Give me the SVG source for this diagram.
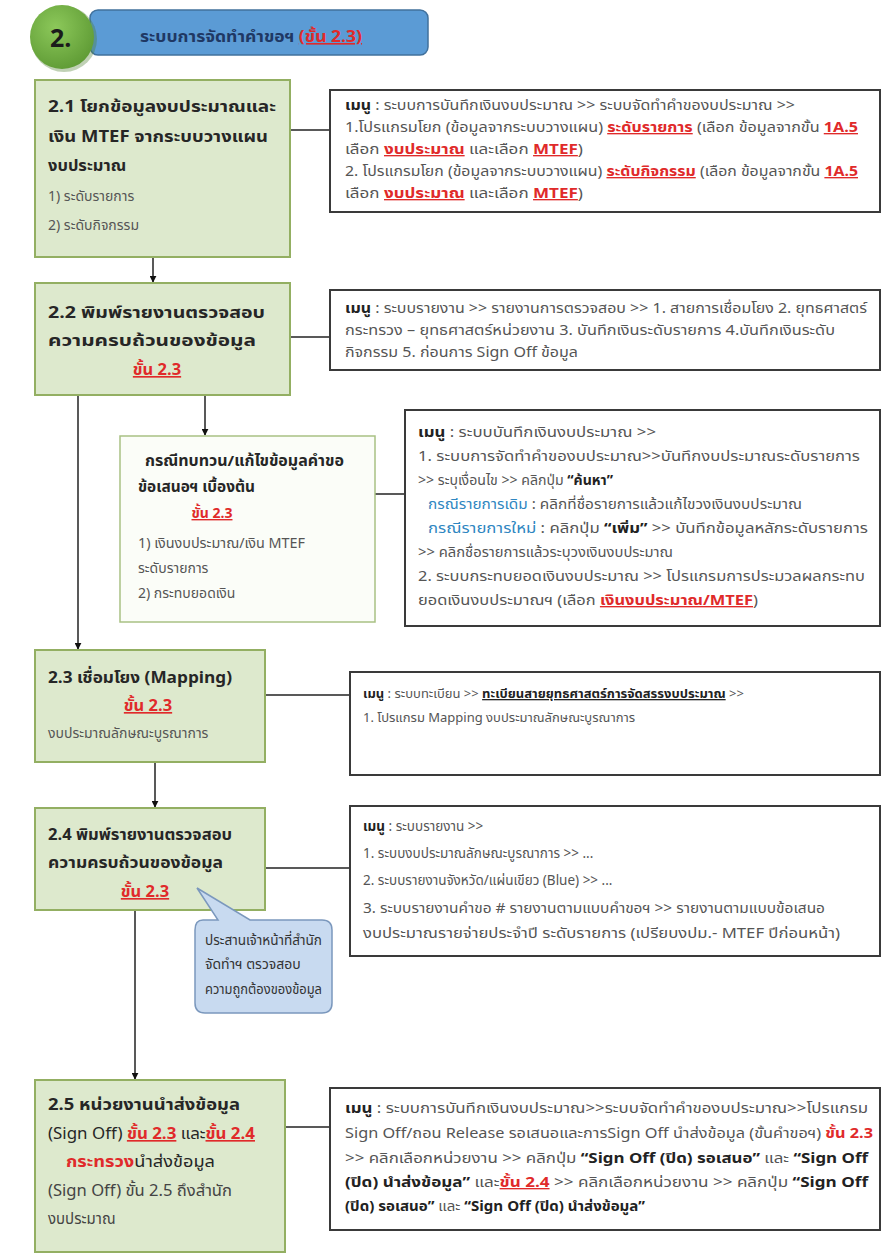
<svg xmlns="http://www.w3.org/2000/svg" width="889" height="1255" viewBox="0 0 889 1255">
<style>
text{font-family:"Noto Sans Thai","Noto Sans","DejaVu Sans",sans-serif;}
.gbox{fill:#dde9cd;stroke:#93af62;stroke-width:2;}
.sbox{fill:#fbfdf8;stroke:#a9c184;stroke-width:1.5;}
.mbox{fill:#ffffff;stroke:#3a3a3a;stroke-width:2;}
.h{font-size:16.5px;font-weight:bold;fill:#262626;}
.n{font-size:14px;fill:#555;}
.m{font-size:13.5px;fill:#555;}
.s{font-size:13px;fill:#555;}
.b{font-weight:bold;fill:#222;}
.r{fill:#e02a2a;text-decoration:underline;font-weight:bold;}
.rn{fill:#e02a2a;}
.bl{fill:#2e86c1;}
.ln{stroke:#222;stroke-width:1.5;fill:none;}
</style>
<defs>
<marker id="ah" viewBox="0 0 10 10" refX="9" refY="5" markerWidth="7" markerHeight="7" orient="auto" markerUnits="userSpaceOnUse">
<path d="M0,0 L10,5 L0,10 z" fill="#111"/>
</marker>
<radialGradient id="gc" cx="0.4" cy="0.35" r="0.7">
<stop offset="0" stop-color="#8cc85a"/>
<stop offset="1" stop-color="#5e9a34"/>
</radialGradient>
</defs>
<rect width="889" height="1255" fill="#ffffff"/>

<g id="header">
<rect x="90" y="10" width="338" height="45" rx="8" fill="#5b9bd5" stroke="#41719c" stroke-width="1.5"/>
<circle cx="64" cy="39" r="33" fill="#4a7a2a" opacity="0.35"/>
<circle cx="62" cy="37" r="32" fill="url(#gc)"/>
<text x="50" y="47" style="font-size:25px;font-weight:bold;fill:#1b1b1b;">2.</text>
<text x="140" y="42" textLength="222" lengthAdjust="spacingAndGlyphs" style="font-size:16px;font-weight:bold;fill:#1f3864;">ระบบการจัดทำคำขอฯ <tspan class="r">(ขั้น 2.3)</tspan></text>
</g>

<g id="connectors">
<line class="ln" x1="153" y1="257" x2="153" y2="282" marker-end="url(#ah)"/>
<line class="ln" x1="290" y1="130" x2="330" y2="130"/>
<line class="ln" x1="290" y1="337" x2="330" y2="337"/>
<line class="ln" x1="205" y1="395" x2="205" y2="435" marker-end="url(#ah)"/>
<line class="ln" x1="78" y1="395" x2="78" y2="649" marker-end="url(#ah)"/>
<line class="ln" x1="375" y1="494" x2="405" y2="494"/>
<line class="ln" x1="265" y1="695" x2="350" y2="695"/>
<line class="ln" x1="155" y1="762" x2="155" y2="807" marker-end="url(#ah)"/>
<line class="ln" x1="265" y1="868" x2="350" y2="868"/>
<line class="ln" x1="135" y1="910" x2="135" y2="1079" marker-end="url(#ah)"/>
<line class="ln" x1="285" y1="1127" x2="330" y2="1127"/>
</g>

<g id="n21">
<rect class="gbox" x="35" y="80" width="255" height="177"/>
<text class="h" x="48" y="112" textLength="228" lengthAdjust="spacingAndGlyphs">2.1 โยกข้อมูลงบประมาณและ</text>
<text class="h" x="48" y="142" textLength="220" lengthAdjust="spacingAndGlyphs">เงิน MTEF จากระบบวางแผน</text>
<text class="h" x="48" y="171">งบประมาณ</text>
<text class="n" x="48" y="201">1) ระดับรายการ</text>
<text class="n" x="48" y="230">2) ระดับกิจกรรม</text>
</g>

<g id="m21">
<rect class="mbox" x="330" y="90" width="550" height="122"/>
<text class="m" x="345" y="110" textLength="450" lengthAdjust="spacingAndGlyphs"><tspan class="b">เมนู</tspan> : ระบบการบันทึกเงินงบประมาณ &gt;&gt; ระบบจัดทำคำของบประมาณ &gt;&gt;</text>
<text class="m" x="345" y="132" textLength="513" lengthAdjust="spacingAndGlyphs">1.โปรแกรมโยก (ข้อมูลจากระบบวางแผน) <tspan class="r">ระดับรายการ</tspan> (เลือก ข้อมูลจากขั้น <tspan class="r">1A.5</tspan></text>
<text class="m" x="345" y="154" textLength="238" lengthAdjust="spacingAndGlyphs">เลือก <tspan class="r">งบประมาณ</tspan> และเลือก <tspan class="r">MTEF</tspan>)</text>
<text class="m" x="345" y="176" textLength="513" lengthAdjust="spacingAndGlyphs">2. โปรแกรมโยก (ข้อมูลจากระบบวางแผน) <tspan class="r">ระดับกิจกรรม</tspan> (เลือก ข้อมูลจากขั้น <tspan class="r">1A.5</tspan></text>
<text class="m" x="345" y="198" textLength="238" lengthAdjust="spacingAndGlyphs">เลือก <tspan class="r">งบประมาณ</tspan> และเลือก <tspan class="r">MTEF</tspan>)</text>
</g>

<g id="n22">
<rect class="gbox" x="35" y="283" width="255" height="112"/>
<text class="h" x="48" y="318" textLength="217" lengthAdjust="spacingAndGlyphs">2.2 พิมพ์รายงานตรวจสอบ</text>
<text class="h" x="48" y="346" textLength="208" lengthAdjust="spacingAndGlyphs">ความครบถ้วนของข้อมูล</text>
<text class="h" x="157" y="375" text-anchor="middle"><tspan class="r">ขั้น 2.3</tspan></text>
</g>

<g id="m22">
<rect class="mbox" x="330" y="290" width="550" height="80"/>
<text class="m" x="345" y="313" textLength="522" lengthAdjust="spacingAndGlyphs"><tspan class="b">เมนู</tspan> : ระบบรายงาน &gt;&gt; รายงานการตรวจสอบ &gt;&gt; 1. สายการเชื่อมโยง 2. ยุทธศาสตร์</text>
<text class="m" x="345" y="335" textLength="490" lengthAdjust="spacingAndGlyphs">กระทรวง – ยุทธศาสตร์หน่วยงาน 3. บันทึกเงินระดับรายการ 4.บันทึกเงินระดับ</text>
<text class="m" x="345" y="357" textLength="233" lengthAdjust="spacingAndGlyphs">กิจกรรม 5. ก่อนการ Sign Off ข้อมูล</text>
</g>

<g id="nsub">
<rect class="sbox" x="120" y="436" width="255" height="186"/>
<text class="h" x="145" y="466" textLength="199" lengthAdjust="spacingAndGlyphs" style="font-size:15px;">กรณีทบทวน/แก้ไขข้อมูลคำขอ</text>
<text class="h" x="138" y="492" textLength="117" lengthAdjust="spacingAndGlyphs" style="font-size:15px;">ข้อเสนอฯ เบื้องต้น</text>
<text class="h" x="212" y="518" text-anchor="middle" style="font-size:14px;"><tspan class="r">ขั้น 2.3</tspan></text>
<text class="n" x="138" y="548" textLength="167" lengthAdjust="spacingAndGlyphs">1) เงินงบประมาณ/เงิน MTEF</text>
<text class="n" x="138" y="573">ระดับรายการ</text>
<text class="n" x="138" y="598">2) กระทบยอดเงิน</text>
</g>

<g id="msub">
<rect class="mbox" x="405" y="410" width="475" height="216"/>
<text class="m" x="418" y="437" textLength="238" lengthAdjust="spacingAndGlyphs"><tspan class="b">เมนู</tspan> : ระบบบันทึกเงินงบประมาณ &gt;&gt;</text>
<text class="m" x="418" y="461" textLength="442" lengthAdjust="spacingAndGlyphs">1. ระบบการจัดทำคำของบประมาณ&gt;&gt;บันทึกงบประมาณระดับรายการ</text>
<text class="m" x="418" y="485" textLength="195" lengthAdjust="spacingAndGlyphs">&gt;&gt; ระบุเงื่อนไข &gt;&gt; คลิกปุ่ม <tspan class="b">“ค้นหา”</tspan></text>
<text class="m" x="428" y="509" textLength="374" lengthAdjust="spacingAndGlyphs"><tspan class="bl">กรณีรายการเดิม</tspan> : คลิกที่ชื่อรายการแล้วแก้ไขวงเงินงบประมาณ</text>
<text class="m" x="428" y="533" textLength="440" lengthAdjust="spacingAndGlyphs"><tspan class="bl">กรณีรายการใหม่</tspan> : คลิกปุ่ม <tspan class="b">“เพิ่ม”</tspan> &gt;&gt; บันทึกข้อมูลหลักระดับรายการ</text>
<text class="m" x="418" y="557" textLength="255" lengthAdjust="spacingAndGlyphs">&gt;&gt; คลิกชื่อรายการแล้วระบุวงเงินงบประมาณ</text>
<text class="m" x="418" y="581" textLength="447" lengthAdjust="spacingAndGlyphs">2. ระบบกระทบยอดเงินงบประมาณ &gt;&gt; โปรแกรมการประมวลผลกระทบ</text>
<text class="m" x="418" y="605" textLength="340" lengthAdjust="spacingAndGlyphs">ยอดเงินงบประมาณฯ (เลือก <tspan class="r">เงินงบประมาณ/MTEF</tspan>)</text>
</g>

<g id="n23">
<rect class="gbox" x="35" y="650" width="230" height="112"/>
<text class="h" x="48" y="683" textLength="184" lengthAdjust="spacingAndGlyphs">2.3 เชื่อมโยง (Mapping)</text>
<text class="h" x="148" y="711" text-anchor="middle"><tspan class="r">ขั้น 2.3</tspan></text>
<text class="n" x="48" y="738">งบประมาณลักษณะบูรณาการ</text>
</g>

<g id="m23">
<rect class="mbox" x="350" y="672" width="530" height="103"/>
<text class="s" x="363" y="698"><tspan class="b">เมนู</tspan> : ระบบทะเบียน &gt;&gt; <tspan class="b" style="text-decoration:underline;">ทะเบียนสายยุทธศาสตร์การจัดสรรงบประมาณ</tspan> &gt;&gt;</text>
<text class="s" x="363" y="722">1. โปรแกรม Mapping งบประมาณลักษณะบูรณาการ</text>
</g>

<g id="n24">
<rect class="gbox" x="35" y="808" width="230" height="102"/>
<text class="h" x="48" y="840" textLength="184" lengthAdjust="spacingAndGlyphs">2.4 พิมพ์รายงานตรวจสอบ</text>
<text class="h" x="48" y="868" textLength="175" lengthAdjust="spacingAndGlyphs">ความครบถ้วนของข้อมูล</text>
<text class="h" x="145" y="897" text-anchor="middle"><tspan class="r">ขั้น 2.3</tspan></text>
</g>

<g id="m24">
<rect class="mbox" x="350" y="806" width="530" height="150"/>
<text class="m" x="363" y="831"><tspan class="b">เมนู</tspan> : ระบบรายงาน &gt;&gt;</text>
<text class="m" x="363" y="858">1. ระบบงบประมาณลักษณะบูรณาการ &gt;&gt; ...</text>
<text class="m" x="363" y="885">2. ระบบรายงานจังหวัด/แผ่นเขียว (Blue) &gt;&gt; ...</text>
<text class="m" x="363" y="913" textLength="462" lengthAdjust="spacingAndGlyphs">3. ระบบรายงานคำขอ # รายงานตามแบบคำขอฯ &gt;&gt; รายงานตามแบบข้อเสนอ</text>
<text class="m" x="363" y="938" textLength="477" lengthAdjust="spacingAndGlyphs">งบประมาณรายจ่ายประจำปี ระดับรายการ (เปรียบงปม.- MTEF ปีก่อนหน้า)</text>
</g>

<g id="callout">
<path d="M203,920 L218,920 L197,888 L250,920 L322,920 Q332,920 332,930 L332,1003 Q332,1013 322,1013 L205,1013 Q195,1013 195,1003 L195,930 Q195,920 203,920 Z" fill="#c8daf0" stroke="#7b98bd" stroke-width="1.5"/>
<text class="n" x="205" y="945" textLength="117" lengthAdjust="spacingAndGlyphs" style="fill:#333;">ประสานเจ้าหน้าที่สำนัก</text>
<text class="n" x="205" y="969" style="fill:#333;">จัดทำฯ ตรวจสอบ</text>
<text class="n" x="205" y="994" textLength="117" lengthAdjust="spacingAndGlyphs" style="fill:#333;">ความถูกต้องของข้อมูล</text>
</g>

<g id="n25">
<rect class="gbox" x="35" y="1080" width="250" height="172"/>
<text class="h" x="48" y="1110" textLength="192" lengthAdjust="spacingAndGlyphs">2.5 หน่วยงานนำส่งข้อมูล</text>
<text class="h" x="48" y="1139" textLength="207" lengthAdjust="spacingAndGlyphs" style="font-weight:normal;">(Sign Off) <tspan class="r">ขั้น 2.3</tspan> และ<tspan class="r">ขั้น 2.4</tspan></text>
<text class="h" x="66" y="1167" textLength="149" lengthAdjust="spacingAndGlyphs" style="font-weight:normal;"><tspan class="rn" style="font-weight:bold;">กระทรวง</tspan>นำส่งข้อมูล</text>
<text class="h" x="48" y="1196" textLength="184" lengthAdjust="spacingAndGlyphs" style="font-weight:normal;fill:#444;">(Sign Off) ขั้น 2.5 ถึงสำนัก</text>
<text class="n" x="48" y="1224" style="font-size:15px;fill:#444;">งบประมาณ</text>
</g>

<g id="m25">
<rect class="mbox" x="330" y="1088" width="550" height="142"/>
<text class="m" x="345" y="1113" textLength="523" lengthAdjust="spacingAndGlyphs"><tspan class="b">เมนู</tspan> : ระบบการบันทึกเงินงบประมาณ&gt;&gt;ระบบจัดทำคำของบประมาณ&gt;&gt;โปรแกรม</text>
<text class="m" x="345" y="1138" textLength="528" lengthAdjust="spacingAndGlyphs">Sign Off/ถอน Release รอเสนอและการSign Off นำส่งข้อมูล (ขั้นคำขอฯ) <tspan class="rn" style="font-weight:bold;">ขั้น 2.3</tspan></text>
<text class="m" x="345" y="1163" textLength="523" lengthAdjust="spacingAndGlyphs">&gt;&gt; คลิกเลือกหน่วยงาน &gt;&gt; คลิกปุ่ม <tspan class="b">“Sign Off (ปิด) รอเสนอ”</tspan> และ <tspan class="b">“Sign Off</tspan></text>
<text class="m" x="345" y="1187" textLength="523" lengthAdjust="spacingAndGlyphs"><tspan class="b">(ปิด) นำส่งข้อมูล”</tspan> และ<tspan class="r">ขั้น 2.4</tspan> &gt;&gt; คลิกเลือกหน่วยงาน &gt;&gt; คลิกปุ่ม <tspan class="b">“Sign Off</tspan></text>
<text class="m" x="345" y="1211" textLength="300" lengthAdjust="spacingAndGlyphs"><tspan class="b">(ปิด) รอเสนอ”</tspan> และ <tspan class="b">“Sign Off (ปิด) นำส่งข้อมูล”</tspan></text>
</g>
</svg>
